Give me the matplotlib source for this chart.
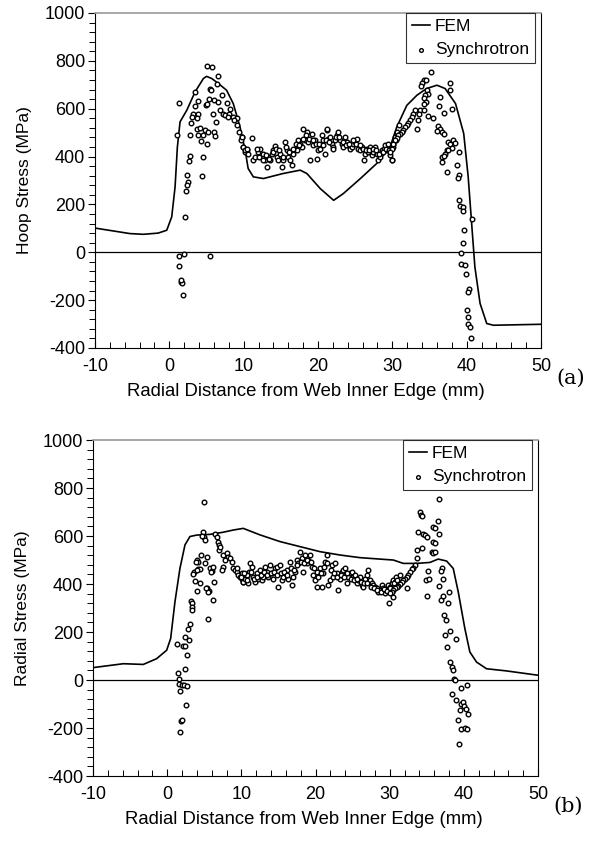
import numpy as np
import matplotlib
matplotlib.use("Agg")
import matplotlib.pyplot as plt
from matplotlib.ticker import MultipleLocator

plt.rcParams['font.family'] = ['Liberation Sans', 'DejaVu Sans']
plt.rcParams['axes.unicode_minus'] = False

# ---- (a) hoop stress ----
fem_hoop_x = [-10, -5.3, -3.5, -1.5, -0.35, 0.32, 0.77, 1.08, 1.44, 2.34, 3.46, 4.58, 5.0,
              5.7, 6.6, 7.7, 8.6, 9.5, 10.2, 10.6, 11.3, 12.65, 15.3, 17.6, 18.5, 20.3,
              22.1, 23.4, 25.7, 27.9, 29.7, 30.6, 31.95, 33.3, 34.6, 36.0, 37.1, 38.5,
              39.6, 40.2, 40.7, 41.1, 41.8, 42.7, 43.6, 50]
fem_hoop_y = [101, 78, 75, 80, 92, 148, 273, 440, 545, 593, 670, 726, 735,
              726, 705, 677, 621, 524, 426, 350, 315, 308, 329, 343, 329, 266,
              217, 245, 308, 371, 440, 524, 614, 656, 684, 698, 684, 621,
              496, 315, 106, -61, -214, -298, -305, -301]

syn_hoop_x = [5.0, 5.8, 6.6, 3.5, 1.26, 5.48, 5.57, 6.38, 7.05, 5.34, 6.0, 6.6, 7.72, 4.94,
              3.5, 5.03, 3.91, 6.78, 7.18, 7.5, 8.08, 8.17, 8.62, 7.95, 9.07, 8.71, 9.16,
              9.43, 9.74, 9.6, 9.96, 10.19, 10.41, 10.64, 3.23, 3.91, 3.01, 3.68, 2.92,
              6.28, 5.93, 1.08, 2.79, 3.77, 4.13, 4.8, 5.25, 6.06, 6.15, 4.58, 3.91, 4.27,
              5.12, 2.79, 2.65, 4.54, 2.34, 2.47, 2.38, 2.2, 4.4, 2.11, 1.35, 2.02, 5.48,
              1.35, 1.57, 1.75, 1.5, 1.8,
              9.74, 9.96, 10.19, 10.41, 11.09, 11.31, 11.53, 11.98, 12.21, 12.43, 12.66,
              12.88, 13.11, 13.33, 13.55, 13.78, 14.0, 14.23, 14.45, 14.68, 14.9, 15.12,
              15.35, 15.57, 15.8, 16.02, 16.25, 16.47, 16.69, 16.92, 17.14, 17.37, 17.59,
              17.82, 18.04, 18.26, 18.49, 18.71, 18.94, 19.16, 19.39, 19.61, 19.83, 20.06,
              20.28, 20.51, 20.73, 20.96, 21.18, 21.27, 21.4, 21.63, 21.85, 22.08, 22.3,
              22.53, 22.75, 22.98, 23.2, 23.42, 23.65, 23.87, 24.1, 24.32, 24.55, 24.77,
              25.0, 25.22, 25.44, 25.67, 25.89, 26.12, 26.34, 26.56, 26.79, 27.01, 27.24,
              27.46, 27.69, 27.91, 28.13, 28.36, 28.58, 28.81, 29.03, 29.26, 29.48, 29.71,
              29.93, 30.15, 30.38, 30.6, 30.83,
              11.76, 12.12, 12.57, 13.02, 13.46, 13.91, 14.36, 14.81, 15.26, 15.71, 16.16,
              16.6, 17.05, 17.5, 17.95, 18.4, 18.85, 19.3, 19.74, 20.19, 20.64, 21.09,
              21.54, 21.99, 22.44, 22.88, 23.33, 23.78, 24.23, 24.68, 25.13, 25.58, 26.03,
              26.47, 26.92, 27.37, 27.82, 28.27, 28.72, 29.16, 29.61, 30.06, 30.51,
              35.17, 34.19, 34.55, 33.96, 33.83, 37.78, 37.69, 34.63, 34.86, 34.41, 34.19,
              34.55, 34.19, 36.43, 36.34, 36.97, 38.0, 33.74, 34.19, 33.65, 34.77, 35.53,
              33.06, 32.84, 32.62, 32.39, 32.17, 31.94, 31.72, 31.49, 31.27, 31.05, 30.82,
              30.6, 30.37, 30.15, 29.92, 29.7, 29.92, 33.51, 33.38, 36.2, 36.43, 35.98,
              36.65, 36.88, 37.55, 37.78, 38.22, 38.45, 38.0, 37.33, 37.1, 38.9, 36.65,
              37.42, 36.88, 36.65, 37.33, 38.67, 38.9, 38.81, 38.99, 39.12, 39.48, 39.57,
              40.69, 39.66, 39.44, 39.21, 39.21, 39.79, 39.88, 40.33, 40.24, 40.02, 40.15,
              40.11, 40.47, 40.56]
syn_hoop_y = [779, 774, 737, 670, 624, 684, 677, 705, 656, 642, 638, 628, 624, 617,
              610, 621, 632, 593, 579, 572, 579, 600, 565, 565, 559, 552, 531,
              503, 482, 468, 440, 419, 426, 412, 579, 579, 565, 559, 540,
              543, 579, 489, 489, 517, 520, 510, 503, 503, 485, 489, 489, 465,
              451, 401, 382, 396, 324, 294, 280, 256, 318, 148, -14, -6, -14,
              -57, -124, -128, -118, -177,
              482, 440, 426, 433, 479, 384, 398, 419, 433, 398, 412,
              384, 356, 398, 384, 412, 426, 443, 398, 384, 412, 356,
              384, 461, 426, 398, 384, 363, 412, 433, 426, 468, 454,
              440, 517, 468, 503, 461, 384, 496, 447, 468, 391, 426,
              433, 489, 468, 412, 510, 517, 475, 482, 454, 440, 468,
              489, 503, 468, 454, 440, 482, 461, 447, 433, 440, 454,
              461, 475, 433, 426, 440, 384, 412, 433, 419, 440, 405,
              419, 440, 412, 384, 398, 426, 433, 447, 426, 454, 405,
              384, 454, 482, 503, 531,
              433, 398, 384, 405, 391, 419, 433, 426, 398, 440, 419,
              433, 454, 447, 475, 489, 475, 468, 454, 454, 447, 468,
              461, 433, 482, 482, 461, 447, 454, 468, 454, 447, 433,
              426, 426, 433, 426, 412, 419, 433, 426, 440, 468,
              754, 719, 721, 708, 694, 708, 680, 677, 663, 656, 646,
              628, 621, 649, 610, 582, 600, 593, 596, 579, 570, 563,
              593, 579, 565, 552, 538, 531, 524, 510, 503, 496, 489,
              479, 468, 454, 433, 419, 384, 552, 517, 526, 517, 506,
              503, 496, 461, 454, 468, 457, 437, 426, 412, 419, 398,
              426, 401, 377, 336, 363, 322, 312, 220, 194, 189, 171,
              141, 95, 40, -3, -51, -54, -89, -152, -166, -242, -270,
              -298, -312, -357]

# ---- (b) radial stress ----
fem_rad_x = [-10.18, -5.91, -3.22, -1.42, -0.07, 0.47, 1.05, 1.72, 2.4, 3.07, 3.97, 5.77,
             7.57, 8.91, 10.26, 12.5, 15.2, 17.9, 20.6, 23.3, 25.98, 28.68, 30.5, 31.83,
             33.62, 35.42, 36.54, 37.67, 38.57, 39.24, 40.14, 40.81, 41.71, 43.06, 45.75, 50.0]
fem_rad_y = [51, 68, 65, 89, 124, 173, 326, 465, 563, 598, 604, 607,
             616, 625, 632, 605, 577, 556, 535, 521, 510, 504, 500, 486,
             486, 490, 504, 496, 465, 368, 214, 117, 75, 47, 38, 20]

syn_rad_x = [5.0, 4.78, 4.96, 5.09, 4.65, 6.49, 6.67, 6.89, 6.94, 7.03, 7.12, 4.51, 3.97, 4.2,
             3.88, 5.41, 5.14, 5.77, 6.0, 5.86, 6.22, 3.61, 3.52, 4.2, 4.42, 3.97, 3.7, 4.47,
             4.07, 5.32, 5.59, 5.45, 5.23, 6.22, 6.26, 5.54, 3.21, 3.3, 3.39, 3.34, 3.07,
             2.85, 2.98, 2.4, 1.37, 2.17, 2.4, 2.71, 2.44, 1.41, 1.54, 1.63, 1.95, 2.31,
             2.62, 1.72, 2.49, 1.86, 1.72, 1.95,
             7.56, 8.0, 8.24, 8.46, 7.79, 8.69, 7.48, 7.34, 8.91, 9.14, 9.36, 9.59, 9.81,
             10.04, 10.26, 10.49, 10.71, 10.93, 11.07, 10.26, 9.36,
             10.03, 10.26, 10.48, 10.71, 10.93, 11.16, 11.38, 11.61, 11.83, 12.06, 12.28,
             12.51, 12.73, 12.95, 13.18, 13.4, 13.63, 13.85, 14.08, 14.3, 14.53, 14.75,
             14.98, 15.2, 15.43, 15.65, 15.87, 16.1, 16.32, 16.55, 16.77, 17.0, 17.22,
             17.45, 17.67, 17.9, 18.12, 18.34, 18.57, 18.79, 19.02, 19.24, 19.47, 19.69,
             19.92, 20.14, 20.37, 20.59, 20.82, 21.04, 21.26, 21.49, 21.71, 21.94, 22.16,
             22.39, 22.61, 22.84, 23.06, 23.29, 23.51, 23.74, 23.96, 24.18, 24.41, 24.63,
             24.86, 25.08, 25.31, 25.53, 25.76, 25.98, 26.21, 26.43, 26.65, 26.88, 27.1,
             27.33, 27.55, 27.78, 28.0, 28.23, 28.45, 28.68, 28.9, 29.13, 29.35, 29.57,
             29.8, 29.89, 30.02, 30.25, 30.47, 30.7, 30.92, 31.15, 31.37,
             9.9, 10.35, 10.8, 11.25, 11.7, 12.15, 12.6, 13.04, 13.49, 13.94, 14.39,
             14.84, 15.29, 15.74, 16.19, 16.64, 17.09, 17.54, 17.99, 18.43, 18.88, 19.33,
             19.78, 20.23, 20.68, 21.13, 21.58, 22.03, 22.48, 22.93, 23.38, 23.83, 24.27,
             24.72, 25.17, 25.62, 26.07, 26.52, 26.97, 27.42, 27.87, 28.32, 28.77, 29.22,
             29.66, 30.11, 30.56, 31.01,
             36.63, 34.07, 34.16, 34.3, 35.87, 36.1, 36.45, 33.85, 34.52, 34.75, 34.97,
             36.68, 35.87, 36.1, 33.62, 34.39, 35.65, 35.87, 36.1, 33.62, 33.4, 33.08,
             32.95, 32.73, 32.5, 32.28, 32.05, 31.83, 31.6, 31.38, 31.15, 30.93, 30.7,
             30.48, 30.25, 30.03, 30.48, 32.28, 35.11, 34.88, 35.33, 34.97, 36.99, 36.86,
             37.13, 36.68, 38.03, 36.86, 37.22, 37.89, 37.31, 37.58, 38.12, 37.44, 39.01,
             37.67, 38.12, 38.34, 38.48, 38.66, 38.79, 39.6, 40.36, 38.34, 39.01, 39.55,
             39.82, 39.98, 39.46, 40.27, 40.6, 39.24, 39.55, 40.14, 40.36, 39.33]
syn_rad_y = [740, 618, 598, 584, 602, 609, 598, 577, 563, 542, 556, 521, 500, 493,
             490, 513, 486, 465, 455, 449, 472, 451, 440, 462, 462, 457, 412, 405,
             369, 384, 373, 368, 382, 333, 407, 256, 329, 319, 305, 291, 233,
             214, 168, 180, 150, 142, 141, 103, 46, 31, 5, -17, -20, -22,
             -26, -47, -102, -169, -217, -168,
             521, 528, 514, 507, 500, 493, 472, 458, 465, 458, 451, 437, 430,
             423, 409, 421, 437, 444, 451, 430, 468,
             444, 410, 423, 437, 403, 486, 472, 430, 410, 444, 423,
             458, 416, 430, 472, 451, 430, 479, 444, 423, 465, 472,
             389, 479, 416, 430, 444, 458, 423, 493, 396, 430, 451,
             500, 486, 535, 507, 451, 521, 486, 500, 521, 472, 437,
             416, 389, 430, 465, 389, 444, 493, 521, 396, 416, 479,
             430, 486, 444, 375, 423, 451, 458, 465, 403, 430, 444,
             451, 430, 437, 403, 416, 430, 396, 389, 423, 437, 458,
             416, 403, 396, 389, 382, 368, 375, 396, 382, 361, 375,
             396, 319, 389, 403, 416, 410, 430, 410, 437,
             430, 444, 416, 451, 423, 430, 437, 451, 437, 444, 451,
             437, 444, 451, 437, 465, 458, 479, 493, 486, 500, 493,
             465, 451, 444, 472, 486, 458, 444, 430, 437, 430, 444,
             423, 416, 423, 410, 403, 403, 389, 382, 375, 368, 379,
             370, 384, 403, 416,
             755, 699, 688, 684, 639, 632, 663, 616, 607, 604, 597,
             609, 577, 570, 542, 549, 532, 531, 532, 507, 479, 468,
             462, 451, 437, 430, 423, 416, 409, 402, 393, 389, 382,
             375, 368, 361, 347, 384, 454, 416, 421, 351, 468, 454,
             423, 393, 368, 333, 351, 319, 270, 249, 203, 187, 173,
             138, 75, 54, 40, 5, -1, -32, -20, -57, -85, -99,
             -92, -109, -124, -120, -141, -168, -206, -201, -206, -266]

panels = [
    dict(fem_x=fem_hoop_x, fem_y=fem_hoop_y, syn_x=syn_hoop_x, syn_y=syn_hoop_y,
         ylabel='Hoop Stress (MPa)', tag='(a)', rect=[0.1605, 0.5911, 0.7534, 0.3937]),
    dict(fem_x=fem_rad_x, fem_y=fem_rad_y, syn_x=syn_rad_x, syn_y=syn_rad_y,
         ylabel='Radial Stress (MPa)', tag='(b)', rect=[0.1571, 0.0881, 0.7517, 0.3948]),
]

fig = plt.figure(figsize=(5.92, 8.51), dpi=100)

for p in panels:
    ax = fig.add_axes(p['rect'])
    ax.axhline(0, color='black', lw=0.9, zorder=1)
    ax.plot(p['fem_x'], p['fem_y'], color='black', lw=1.2, label='FEM', zorder=2)
    ax.scatter(p['syn_x'], p['syn_y'], s=11, facecolors='white', edgecolors='black',
               linewidths=1.0, label='Synchrotron', zorder=3)
    ax.set_xlim(-10, 50)
    ax.set_ylim(-400, 1000)
    ax.xaxis.set_major_locator(MultipleLocator(10))
    ax.xaxis.set_minor_locator(MultipleLocator(2))
    ax.yaxis.set_major_locator(MultipleLocator(200))
    ax.yaxis.set_minor_locator(MultipleLocator(40))
    ax.tick_params(axis='x', which='major', direction='in', length=5, width=0.8,
                   labelsize=13, pad=7)
    ax.tick_params(axis='x', which='minor', direction='in', length=4, width=0.7)
    ax.tick_params(axis='y', which='major', direction='out', length=5, width=0.8,
                   labelsize=13, pad=2)
    ax.tick_params(axis='y', which='minor', direction='out', length=4, width=0.7)
    for side in ['left', 'bottom', 'right']:
        ax.spines[side].set_linewidth(0.8)
    ax.spines['top'].set_color('#999999')
    ax.spines['top'].set_linewidth(1.2)
    ax.set_xlabel('Radial Distance from Web Inner Edge (mm)', fontsize=13.3, labelpad=1)
    ax.xaxis.set_label_coords(0.473, -0.105)
    ax.set_ylabel(p['ylabel'], fontsize=12.5, labelpad=9)
    leg = ax.legend(loc='upper right', fontsize=12.5, frameon=True, fancybox=False,
                    edgecolor='black', handlelength=1.0, handletextpad=0.3,
                    borderpad=0.35, labelspacing=0.45, borderaxespad=0.0,
                    scatterpoints=1, markerscale=0.8, bbox_to_anchor=(0.987, 1.0))
    leg.get_frame().set_linewidth(0.8)
    ax.text(1.035, -0.09, p['tag'], transform=ax.transAxes, fontsize=15,
            family=['DejaVu Serif'], ha='left', va='center')

fig.savefig('out.png', dpi=100)
